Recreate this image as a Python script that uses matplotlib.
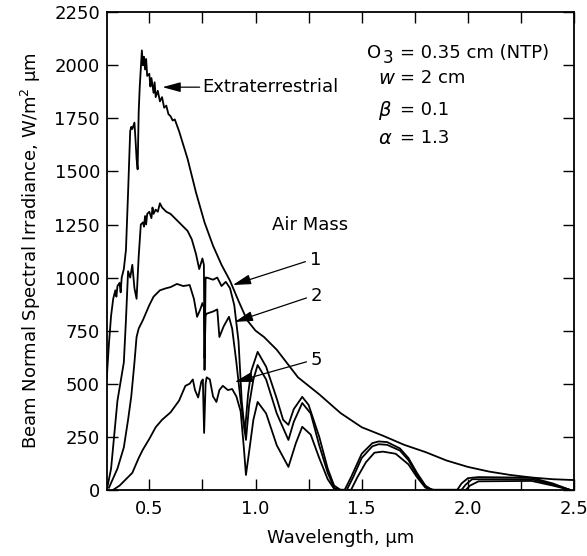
import matplotlib
matplotlib.use("Agg")
import matplotlib.pyplot as plt

plt.rcParams['font.family'] = ['DejaVu Sans']
plt.rcParams['mathtext.fontset'] = 'dejavusans'

# wavelength (um) / beam normal spectral irradiance (W/m2 um)
wl_et = [0.30, 0.31, 0.32, 0.33, 0.34, 0.345, 0.35, 0.36, 0.365, 0.37, 0.38, 0.39, 0.40,
         0.41, 0.415, 0.42, 0.43, 0.435, 0.44, 0.445, 0.45, 0.455, 0.465, 0.47, 0.475,
         0.48, 0.485, 0.49, 0.50, 0.505, 0.51, 0.52, 0.525, 0.53, 0.54, 0.55, 0.56, 0.57,
         0.58, 0.59, 0.60, 0.61, 0.62, 0.64, 0.68, 0.72, 0.76, 0.80, 0.84, 0.88, 0.92,
         0.96, 1.00, 1.04, 1.10, 1.20, 1.30, 1.40, 1.50, 1.60, 1.70, 1.80, 1.90, 2.00,
         2.10, 2.20, 2.30, 2.40, 2.50]
et = [530, 690, 820, 900, 940, 910, 960, 975, 930, 1000, 1040, 1130, 1400,
      1690, 1710, 1700, 1730, 1650, 1560, 1510, 1780, 1900, 2070, 2000, 2040,
      1980, 2030, 1950, 1960, 1900, 1940, 1870, 1920, 1850, 1880, 1830, 1850, 1800,
      1810, 1770, 1760, 1740, 1745, 1690, 1560, 1400, 1260, 1150, 1060, 985, 890,
      800, 750, 720, 660, 530, 450, 362, 295, 255, 212, 178, 138, 108,
      86, 70, 58, 50, 46]

wl_am1 = [0.30, 0.32, 0.35, 0.38, 0.39, 0.40, 0.41, 0.42, 0.43, 0.44, 0.45, 0.46, 0.47,
          0.475, 0.48, 0.485, 0.49, 0.50, 0.51, 0.515, 0.52, 0.53, 0.54, 0.55, 0.56,
          0.58, 0.60, 0.62, 0.65, 0.68, 0.70, 0.72, 0.735, 0.75, 0.757, 0.76, 0.765,
          0.77, 0.80, 0.82, 0.84, 0.86, 0.88, 0.90, 0.92, 0.935, 0.95, 0.965, 0.98,
          1.01, 1.05, 1.10, 1.13, 1.155, 1.18, 1.22, 1.25, 1.30, 1.34, 1.37, 1.40,
          1.42, 1.45, 1.50, 1.55, 1.58, 1.62, 1.68, 1.72, 1.76, 1.80, 1.83, 1.95,
          1.97, 2.00, 2.05, 2.30, 2.40, 2.48]
am1 = [0, 100, 420, 600, 800, 1030, 1000, 1060, 950, 900, 1100, 1250, 1260,
       1240, 1290, 1250, 1300, 1310, 1280, 1330, 1300, 1320, 1310, 1350, 1330,
       1310, 1300, 1280, 1250, 1220, 1180, 1110, 1040, 1090, 1060, 565, 1000,
       1000, 990, 1000, 960, 980, 950, 870, 700, 420, 270, 450, 560,
       650, 580, 430, 330, 306, 380, 438, 400, 250, 100, 20, 0,
       0, 60, 170, 220, 228, 225, 195, 150, 80, 20, 0, 0,
       30, 55, 60, 57, 30, 0]

wl_am2 = [0.31, 0.35, 0.38, 0.40, 0.415, 0.43, 0.44, 0.45, 0.47, 0.50, 0.52, 0.55,
          0.58, 0.60, 0.63, 0.66, 0.69, 0.71, 0.725, 0.74, 0.75, 0.757, 0.76, 0.765,
          0.77, 0.80, 0.82, 0.83, 0.85, 0.875, 0.89, 0.91, 0.93, 0.955, 0.97, 0.99,
          1.01, 1.05, 1.10, 1.155, 1.18, 1.22, 1.26, 1.30, 1.34, 1.37, 1.39, 1.43,
          1.46, 1.50, 1.55, 1.58, 1.62, 1.68, 1.72, 1.76, 1.80, 1.83, 1.97, 1.99,
          2.02, 2.30, 2.40, 2.48]
am2 = [10, 100, 200, 330, 440, 600, 720, 760, 800, 870, 910, 940,
       950, 955, 970, 960, 965, 900, 815, 850, 880, 860, 620, 820,
       830, 840, 850, 720, 770, 815, 760, 600, 420, 235, 400, 520,
       588, 520, 360, 235, 320, 409, 360, 210, 80, 10, 0, 0,
       60, 150, 205, 215, 212, 185, 140, 70, 15, 0, 0, 25,
       50, 50, 25, 0]

wl_am5 = [0.33, 0.36, 0.40, 0.42, 0.45, 0.47, 0.50, 0.53, 0.56, 0.60, 0.64, 0.67,
          0.69, 0.705, 0.715, 0.73, 0.745, 0.752, 0.758, 0.765, 0.77, 0.785, 0.80,
          0.816, 0.83, 0.846, 0.87, 0.89, 0.91, 0.93, 0.945, 0.955, 0.97, 0.99,
          1.01, 1.05, 1.10, 1.155, 1.19, 1.22, 1.26, 1.30, 1.34, 1.37, 1.40, 1.45,
          1.48, 1.52, 1.56, 1.60, 1.66, 1.72, 1.76, 1.80, 1.84, 1.99, 2.01, 2.05,
          2.30, 2.40, 2.48]
am5 = [0, 20, 60, 80, 150, 190, 240, 295, 330, 365, 420, 490,
       500, 520, 470, 435, 510, 520, 268, 500, 530, 520, 440,
       414, 470, 490, 470, 475, 440, 370, 200, 70, 180, 330,
       414, 360, 210, 108, 220, 297, 260, 150, 50, 5, 0, 0,
       60, 130, 175, 180, 170, 120, 60, 10, 0, 0, 20, 40,
       42, 20, 0]

fig = plt.figure(figsize=(5.87, 5.56), dpi=100)
ax = fig.add_axes([0.182, 0.119, 0.796, 0.859])

for wl, e in [(wl_et, et), (wl_am1, am1), (wl_am2, am2), (wl_am5, am5)]:
    ax.plot(wl, e, color='black', lw=1.3)

ax.set_xlim(0.3, 2.5)
ax.set_ylim(0, 2250)
ax.set_xticks([0.5, 1.0, 1.5, 2.0, 2.5])
ax.set_xticklabels(['0.5', '1.0', '1.5', '2.0', '2.5'])
ax.set_xticks([0.75, 1.25, 1.75, 2.25], minor=True)
ax.set_yticks(range(0, 2251, 250))
ax.tick_params(which='both', direction='in', top=True, right=True, length=8,
               width=1.0, labelsize=13)
ax.tick_params(axis='x', pad=7)
ax.tick_params(axis='y', pad=5)
for s in ax.spines.values():
    s.set_linewidth(1.3)

ax.set_xlabel('Wavelength, µm', fontsize=13, labelpad=8)
ax.set_ylabel('Beam Normal Spectral Irradiance, W/m$^2$ µm', fontsize=13, labelpad=8)

head = dict(arrowstyle='-|>,head_length=1.1,head_width=0.3', color='black', lw=0.9,
            shrinkA=0, shrinkB=0, mutation_scale=10)
ax.annotate('Extraterrestrial', xy=(0.562, 1897), xytext=(0.75, 1897),
            fontsize=13, va='center', ha='left', arrowprops=head)

ax.text(1.078, 1250, 'Air Mass', fontsize=13, va='center', ha='left')
ax.annotate('', xy=(0.893, 965), xytext=(1.235, 1075), arrowprops=head)
ax.annotate('', xy=(0.902, 791), xytext=(1.24, 904), arrowprops=head)
ax.annotate('', xy=(0.902, 508), xytext=(1.24, 603), arrowprops=head)
ax.text(1.255, 1085, '1', fontsize=13, va='center', ha='left')
ax.text(1.26, 912, '2', fontsize=13, va='center', ha='left')
ax.text(1.26, 612, '5', fontsize=13, va='center', ha='left')

ax.text(1.525, 2057, 'O', fontsize=13, va='center', ha='left')
ax.text(1.598, 2035, '3', fontsize=12, va='center', ha='left')
ax.text(1.578, 1940, '$w$', fontsize=14, va='center', ha='left')
ax.text(1.578, 1789, r'$\beta$', fontsize=14, va='center', ha='left')
ax.text(1.578, 1657, r'$\alpha$', fontsize=14, va='center', ha='left')
ax.text(1.68, 2057, '= 0.35 cm (NTP)', fontsize=13, va='center', ha='left')
ax.text(1.68, 1940, '= 2 cm', fontsize=13, va='center', ha='left')
ax.text(1.68, 1789, '= 0.1', fontsize=13, va='center', ha='left')
ax.text(1.68, 1657, '= 1.3', fontsize=13, va='center', ha='left')

fig.savefig('out.png', dpi=100)
